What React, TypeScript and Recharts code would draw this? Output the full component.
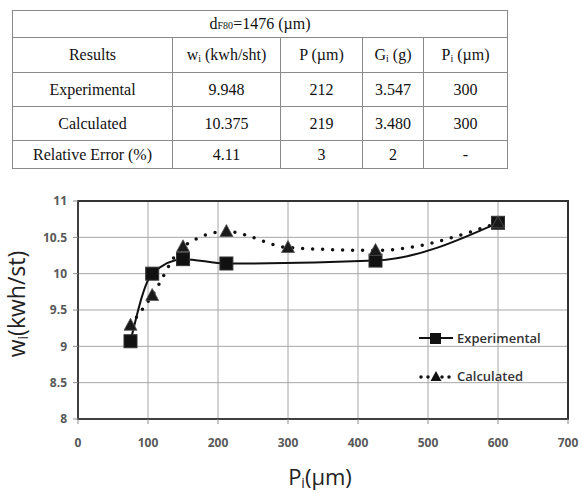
import React from 'react'
import {
  LineChart, Line, XAxis, YAxis, CartesianGrid, Legend, ReferenceArea, Label
} from 'recharts'

// table values
const tableHead = ['Results', 'wi (kwh/sht)', 'P (µm)', 'Gi (g)', 'Pi (µm)']
const rowLabels = ['Experimental', 'Calculated', 'Relative Error (%)']
const wiCol = ['9.948', '10.375', '4.11']
const pCol = ['212', '219', '3']
const giCol = ['3.547', '3.480', '2']
const piCol = ['300', '300', '-']

// chart values
const expP = [75, 106, 150, 212, 425, 600]
const expW = [9.07, 10.0, 10.2, 10.14, 10.18, 10.7]
const calcP = [75, 106, 150, 212, 300, 425, 600]
const calcW = [9.29, 9.7, 10.37, 10.58, 10.36, 10.32, 10.7]
const xTicks = [0, 100, 200, 300, 400, 500, 600, 700]
const yTicks = [8, 8.5, 9, 9.5, 10, 10.5, 11]

const expData = expP.map((p, i) => ({ p, w: expW[i] }))
const calcData = calcP.map((p, i) => ({ p, w: calcW[i] }))

const cellStyle: React.CSSProperties = {
  border: '1px solid #8a8a8a',
  textAlign: 'center',
  padding: 0,
}

const withSub = (s: string) => {
  // "wi (..)" -> w<sub>i</sub> (..)
  const m = s.match(/^([A-Za-z])i (.*)$/)
  if (!m) return s
  return (
    <>
      {m[1]}
      <sub style={{ fontSize: 10, verticalAlign: '-2px' }}>i</sub> {m[2]}
    </>
  )
}

const Square = (props: any) => {
  const { cx, cy } = props
  if (cx == null || cy == null) return null
  return <rect x={cx - 6.5} y={cy - 6.5} width={13} height={13} fill="#111" stroke="#333" strokeWidth={1} />
}

const Triangle = (props: any) => {
  const { cx, cy } = props
  if (cx == null || cy == null) return null
  return (
    <path
      d={`M${cx},${cy - 7} L${cx + 6.5},${cy + 5} L${cx - 6.5},${cy + 5} Z`}
      fill="#1a1a1a"
      stroke="#555"
      strokeWidth={0.8}
    />
  )
}

const renderLegend = () => (
  <div style={{ fontFamily: 'Open Sans', fontWeight: 600, fontSize: 13, color: '#333' }}>
    <div style={{ display: 'flex', alignItems: 'center', height: 38 }}>
      <svg width={36} height={16}>
        <line x1={0} y1={8} x2={34} y2={8} stroke="#111" strokeWidth={2} />
        <rect x={11} y={3} width={11} height={11} fill="#111" />
      </svg>
      <span style={{ marginLeft: 2 }}>Experimental</span>
    </div>
    <div style={{ display: 'flex', alignItems: 'center', height: 38 }}>
      <svg width={36} height={16}>
        <line x1={2} y1={9} x2={34} y2={9} stroke="#111" strokeWidth={3.5}
          strokeDasharray="0 7" strokeLinecap="round" />
        <path d="M17,3 L22.5,13 L11.5,13 Z" fill="#111" />
      </svg>
      <span style={{ marginLeft: 2 }}>Calculated</span>
    </div>
  </div>
)

export default function App() {
  return (
    <div style={{ position: 'absolute', left: 0, top: 0, width: 582, height: 493, background: '#fff' }}>
      <table
        style={{
          position: 'absolute', left: 12, top: 10, width: 495,
          borderCollapse: 'collapse', tableLayout: 'fixed',
          fontFamily: '"Liberation Serif", "Times New Roman", serif',
          fontSize: 16, color: '#111',
        }}
      >
        <colgroup>
          <col style={{ width: 160 }} />
          <col style={{ width: 108 }} />
          <col style={{ width: 82 }} />
          <col style={{ width: 61 }} />
          <col style={{ width: 84 }} />
        </colgroup>
        <tbody>
          <tr style={{ height: 27 }}>
            <td colSpan={5} style={cellStyle}>
              d<span style={{ fontSize: 10 }}>F80</span>=1476 (µm)
            </td>
          </tr>
          <tr style={{ height: 35 }}>
            {tableHead.map((h) => (
              <td key={h} style={cellStyle}>{withSub(h)}</td>
            ))}
          </tr>
          {rowLabels.map((r, i) => (
            <tr key={r} style={{ height: i === 2 ? 28 : 34 }}>
              <td style={cellStyle}>{r}</td>
              <td style={cellStyle}>{wiCol[i]}</td>
              <td style={cellStyle}>{pCol[i]}</td>
              <td style={cellStyle}>{giCol[i]}</td>
              <td style={cellStyle}>{piCol[i]}</td>
            </tr>
          ))}
        </tbody>
      </table>

      <div style={{ position: 'absolute', left: 0, top: 180 }}>
        <LineChart width={582} height={313} margin={{ top: 21, right: 14, left: 0, bottom: 34 }}>
          <CartesianGrid stroke="#a6a6a6" strokeWidth={1} />
          <XAxis
            type="number"
            dataKey="p"
            domain={[0, 700]}
            ticks={xTicks}
            height={40}
            axisLine={{ stroke: '#404040', strokeWidth: 2 }}
            tickLine={{ stroke: '#8c8c8c' }}
            tickSize={5}
            tickMargin={14}
            tick={{ fontSize: 12, fontWeight: 700, fill: '#595959', fontFamily: 'Open Sans' }}
          >
            <Label
              content={() => (
                <text x={320} y={305} textAnchor="middle" fontFamily="Open Sans" fontSize={22} fill="#222">
                  P<tspan fontSize={14} dy={3}>i</tspan><tspan dy={-3}>(μm)</tspan>
                </text>
              )}
            />
          </XAxis>
          <YAxis
            type="number"
            domain={[8, 11]}
            ticks={yTicks}
            width={78}
            axisLine={{ stroke: '#404040', strokeWidth: 2 }}
            tickLine={{ stroke: '#8c8c8c' }}
            tickSize={5}
            tickMargin={6}
            tick={{ fontSize: 12, fontWeight: 700, fill: '#595959', fontFamily: 'Open Sans' }}
          >
            <Label
              content={() => (
                <text
                  x={25}
                  y={124}
                  textAnchor="middle"
                  fontFamily="Open Sans"
                  fontSize={23}
                  fill="#222"
                  transform="rotate(-90, 25, 124)"
                >
                  w<tspan fontSize={14} dy={3}>i</tspan><tspan dy={-3}>(kwh/st)</tspan>
                </text>
              )}
            />
          </YAxis>
          <ReferenceArea x1={0} x2={700} y1={8} y2={11} fill="none" stroke="#333" strokeWidth={2} ifOverflow="visible" />
          <Legend
            layout="horizontal"
            verticalAlign="middle"
            align="center"
            content={renderLegend}
            wrapperStyle={{ position: 'absolute', left: 419, top: 139, width: 160, height: 76 }}
          />
          <Line
            data={expData}
            dataKey="w"
            type="monotone"
            stroke="#111"
            strokeWidth={2}
            dot={<Square />}
            activeDot={false}
            isAnimationActive={false}
            name="Experimental"
          />
          <Line
            data={calcData}
            dataKey="w"
            type="monotone"
            stroke="#111"
            strokeWidth={3.5}
            strokeDasharray="0 10"
            strokeLinecap="round"
            dot={<Triangle />}
            activeDot={false}
            isAnimationActive={false}
            name="Calculated"
          />
        </LineChart>
      </div>
    </div>
  )
}
